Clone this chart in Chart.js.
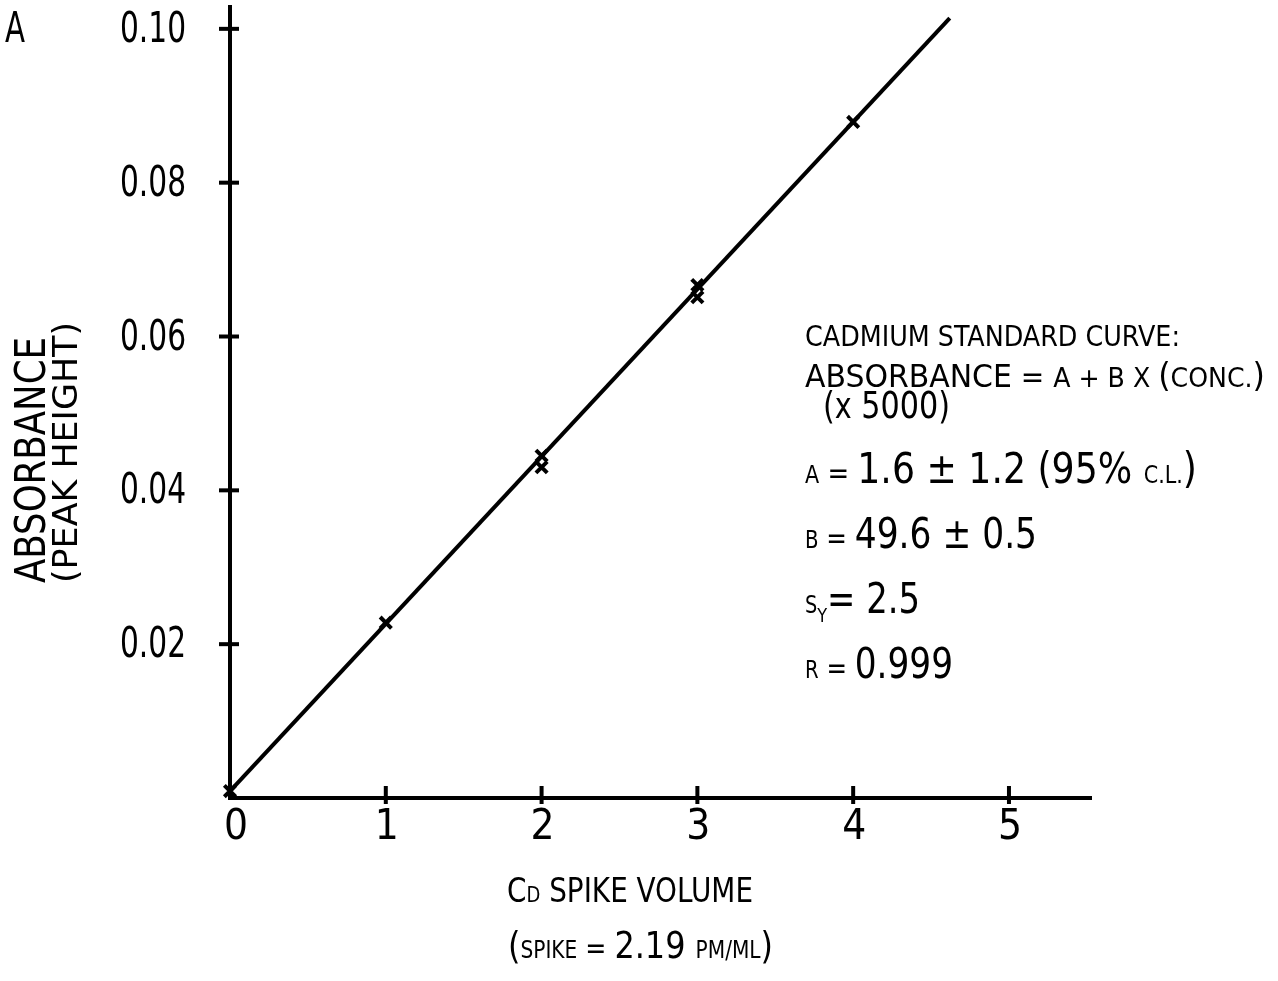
<!DOCTYPE html>
<html>
<head>
<meta charset="utf-8">
<script src="https://cdn.jsdelivr.net/npm/chart.js@4"></script>
<style>
  html, body { margin: 0; padding: 0; background: #fff; }
  #wrap { width: 1278px; height: 981px; }
</style>
</head>
<body>
<div id="wrap"><canvas id="chart" width="1278" height="981"></canvas></div>
<script>
// ── DATA ────────────────────────────────────────────────────────────────────
const spikeVolume = [0, 1, 2, 2, 3, 3, 4];
const absorbance  = [0.0009, 0.0228, 0.0445, 0.0430, 0.0667, 0.0651, 0.0879];
// fitted standard curve, drawn between its two end points
const fitX = [0, 4.62];
const fitY = [0.0009, 0.1014];
const xTicks = [0, 1, 2, 3, 4, 5];
const xTickLabels = ['0', '1', '2', '3', '4', '5'];
const yTicks = [0.02, 0.04, 0.06, 0.08, 0.10];
const yTickLabels = ['0.02', '0.04', '0.06', '0.08', '0.10'];

const FAM = "'Liberation Sans Narrow', 'DejaVu Sans Condensed', 'Liberation Sans', Arial, sans-serif";
const INK = '#000';

// draw a row of text pieces of mixed size, squeezed to a given width
function runs(ctx, parts, x, y, width) {
  let total = 0;
  parts.forEach(p => {
    ctx.font = `${p.size}px ${FAM}`;
    p.w = ctx.measureText(p.t).width;
    total += p.w;
  });
  const sx = width ? width / total : 1;
  ctx.save();
  ctx.translate(x, y);
  ctx.scale(sx, 1);
  let cx = 0;
  parts.forEach(p => {
    ctx.font = `${p.size}px ${FAM}`;
    ctx.fillText(p.t, cx, p.dy || 0);
    cx += p.w;
  });
  ctx.restore();
}

const paperAxes = {
  id: 'paperAxes',
  afterDatasetsDraw(chart) {
    const { ctx, scales: { x, y } } = chart;
    const x0 = x.getPixelForValue(0);
    const y0 = y.getPixelForValue(0);
    ctx.save();
    ctx.strokeStyle = INK;
    ctx.fillStyle = INK;
    ctx.lineCap = 'butt';

    // axis lines
    ctx.lineWidth = 4;
    ctx.beginPath();
    ctx.moveTo(x0, y.top);
    ctx.lineTo(x0, y0);
    ctx.lineTo(x.right, y0);
    ctx.stroke();

    // y ticks and labels
    ctx.textBaseline = 'alphabetic';
    yTicks.forEach((v, i) => {
      const py = y.getPixelForValue(v);
      ctx.lineWidth = 4;
      ctx.beginPath();
      ctx.moveTo(x0 - 11, py);
      ctx.lineTo(x0 + 9, py);
      ctx.stroke();
      runs(ctx, [{ t: yTickLabels[i], size: 42 }], 186 - 66, py + 13, 66);
    });

    // x ticks and labels
    xTicks.forEach((v, i) => {
      const px = x.getPixelForValue(v);
      if (v > 0) {
        ctx.lineWidth = 4;
        ctx.beginPath();
        ctx.moveTo(px, y0 - 12);
        ctx.lineTo(px, y0 + 6);
        ctx.stroke();
      }
      ctx.font = `42px ${FAM}`;
      const w = ctx.measureText(xTickLabels[i]).width;
      ctx.fillText(xTickLabels[i], px - w / 2 + (v === 0 ? 6 : 1), 839);
    });

    // panel letter
    runs(ctx, [{ t: 'A', size: 42 }], 5, 42, 20);

    // y axis title
    ctx.save();
    ctx.translate(45, 583);
    ctx.rotate(-Math.PI / 2);
    runs(ctx, [{ t: 'ABSORBANCE', size: 42 }], 0, 0, 246);
    runs(ctx, [{ t: '(PEAK HEIGHT)', size: 34 }], 0, 32, 261);
    ctx.restore();

    // x axis title
    runs(ctx, [{ t: 'C', size: 34 }, { t: 'D', size: 22 }, { t: ' SPIKE VOLUME', size: 34 }], 507, 902, 246);
    runs(ctx, [
      { t: '(', size: 38 }, { t: 'SPIKE', size: 24 }, { t: ' = ', size: 30 },
      { t: '2.19 ', size: 38 }, { t: 'PM/ML', size: 24 }, { t: ')', size: 38 }
    ], 508, 958, 265);

    // standard curve statistics
    runs(ctx, [{ t: 'CADMIUM STANDARD CURVE:', size: 29 }], 805, 346, 375);
    runs(ctx, [
      { t: 'ABSORBANCE', size: 32 }, { t: ' = ', size: 30 }, { t: 'A + B X ', size: 27 },
      { t: '(', size: 34 }, { t: 'CONC.', size: 27 }, { t: ')', size: 34 }
    ], 805, 387, 460);
    runs(ctx, [{ t: '(', size: 38 }, { t: 'x', size: 36 }, { t: ' 5000)', size: 38 }], 823, 418, 127);
    runs(ctx, [
      { t: 'A', size: 24 }, { t: ' = ', size: 30 }, { t: '1.6 ± 1.2 (95% ', size: 42 },
      { t: 'C.L.', size: 24 }, { t: ')', size: 42 }
    ], 805, 483, 392);
    runs(ctx, [{ t: 'B', size: 24 }, { t: ' = ', size: 30 }, { t: '49.6 ± 0.5', size: 42 }], 805, 548, 232);
    runs(ctx, [{ t: 'S', size: 24 }, { t: 'Y', size: 20, dy: 9 }, { t: '= 2.5', size: 42 }], 805, 613, 115);
    runs(ctx, [{ t: 'R', size: 24 }, { t: ' = ', size: 30 }, { t: '0.999', size: 42 }], 805, 678, 148);

    ctx.restore();
  }
};

const points = spikeVolume.map((v, i) => ({ x: v, y: absorbance[i] }));
const fit = fitX.map((v, i) => ({ x: v, y: fitY[i] }));

new Chart(document.getElementById('chart').getContext('2d'), {
  type: 'scatter',
  data: {
    datasets: [
      {
        label: 'Fit', data: fit, showLine: true, borderColor: INK, borderWidth: 4,
        pointRadius: 0, fill: false, clip: false
      },
      {
        label: 'Cd standard', data: points, pointStyle: 'crossRot', pointRadius: 8,
        borderColor: INK, borderWidth: 4, clip: false
      }
    ]
  },
  options: {
    responsive: false, animation: false,
    layout: { autoPadding: false, padding: { left: 230, right: 186, top: 5, bottom: 183 } },
    plugins: { legend: { display: false }, tooltip: { enabled: false } },
    scales: {
      x: { type: 'linear', min: 0, max: 5.533, display: false },
      y: { type: 'linear', min: 0, max: 0.1031, display: false }
    }
  },
  plugins: [paperAxes]
});
</script>
</body>
</html>
